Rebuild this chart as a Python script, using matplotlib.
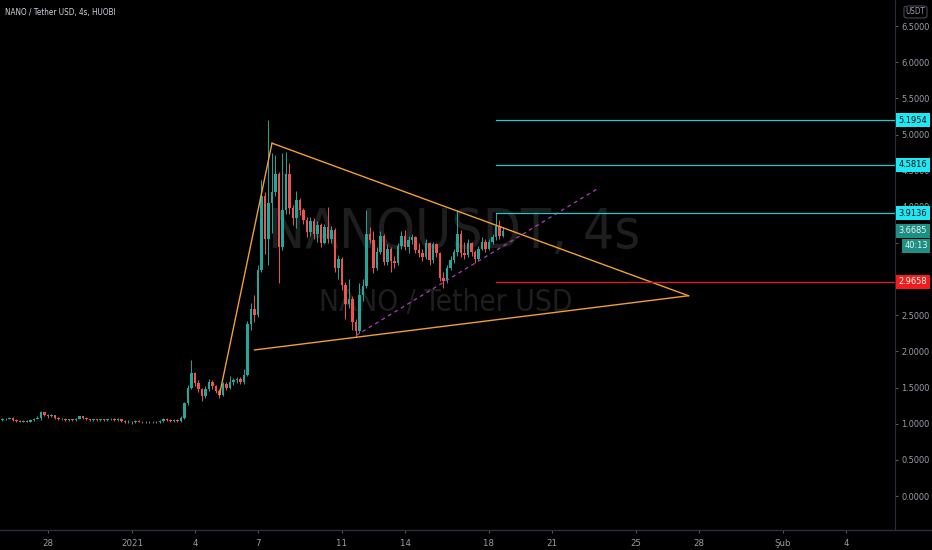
import numpy as np
import matplotlib
matplotlib.use("Agg")
import matplotlib.pyplot as plt
import matplotlib.dates as mdates
import matplotlib.transforms as mtransforms
import matplotlib.font_manager as fm
from matplotlib.patches import Rectangle, FancyBboxPatch

# ---- 4h candles, NANO/USDT (HUOBI) ----
first_bar = np.datetime64("2020-12-25T20:00")
first_open = 1.05
close = [
    1.06, 1.07, 1.08, 1.05, 1.04, 1.03, 1.04, 1.03, 1.05, 1.07,
    1.08, 1.16, 1.12, 1.10, 1.12, 1.08, 1.06, 1.07, 1.05, 1.06,
    1.05, 1.07, 1.10, 1.08, 1.06, 1.05, 1.06, 1.05, 1.06, 1.05,
    1.06, 1.07, 1.05, 1.07, 1.04, 1.02, 1.03, 1.02, 1.04, 1.03,
    1.02, 1.03, 1.02, 1.03, 1.02, 1.04, 1.07, 1.05, 1.04, 1.05,
    1.04, 1.08, 1.28, 1.50, 1.70, 1.56, 1.48, 1.38, 1.48, 1.58,
    1.52, 1.45, 1.40, 1.55, 1.50, 1.58, 1.60, 1.62, 1.58, 1.68,
    2.38, 2.58, 2.50, 3.13, 4.15, 3.55, 4.05, 4.20, 4.45, 3.45,
    3.95, 4.45, 3.98, 3.85, 4.10, 3.95, 3.82, 3.65, 3.80, 3.62,
    3.75, 3.50, 3.72, 3.55, 3.68, 3.15, 3.28, 2.92, 2.65, 2.72,
    2.40, 2.28, 2.78, 2.90, 3.62, 3.54, 3.15, 3.38, 3.60, 3.24,
    3.42, 3.25, 3.22, 3.46, 3.60, 3.44, 3.54, 3.58, 3.40, 3.36,
    3.31, 3.50, 3.26, 3.48, 3.36, 3.02, 2.98, 3.15, 3.26, 3.37,
    3.62, 3.36, 3.33, 3.50, 3.38, 3.28, 3.42, 3.52, 3.42, 3.52,
    3.58, 3.74, 3.60, 3.6685,
]
high = [
    1.08, 1.08, 1.09, 1.09, 1.06, 1.05, 1.05, 1.05, 1.06, 1.08,
    1.10, 1.18, 1.16, 1.13, 1.13, 1.12, 1.09, 1.08, 1.08, 1.07,
    1.07, 1.08, 1.11, 1.11, 1.09, 1.07, 1.07, 1.07, 1.07, 1.07,
    1.07, 1.08, 1.08, 1.08, 1.07, 1.05, 1.05, 1.04, 1.05, 1.05,
    1.04, 1.04, 1.04, 1.04, 1.04, 1.05, 1.08, 1.08, 1.06, 1.06,
    1.06, 1.10, 1.30, 1.53, 1.88, 1.72, 1.60, 1.50, 1.52, 1.62,
    1.60, 1.54, 1.48, 1.58, 1.58, 1.66, 1.63, 1.65, 1.64, 1.75,
    2.42, 2.67, 2.78, 3.20, 4.37, 4.20, 5.20, 4.75, 4.72, 4.48,
    4.74, 4.76, 4.60, 4.02, 4.22, 4.12, 3.98, 3.86, 3.86, 3.84,
    3.80, 3.78, 3.76, 4.00, 3.74, 3.70, 3.34, 3.30, 2.96, 3.00,
    2.76, 2.45, 2.95, 3.00, 3.95, 3.72, 3.66, 3.45, 3.66, 3.62,
    3.48, 3.45, 3.32, 3.50, 3.66, 3.68, 3.60, 3.62, 3.60, 3.50,
    3.42, 3.55, 3.52, 3.52, 3.50, 3.38, 3.10, 3.20, 3.32, 3.42,
    3.96, 3.68, 3.52, 3.55, 3.52, 3.40, 3.46, 3.58, 3.55, 3.56,
    3.62, 3.9136, 3.82, 3.72,
]
low = [
    1.04, 1.05, 1.06, 1.04, 1.03, 1.02, 1.02, 1.02, 1.02, 1.04,
    1.06, 1.05, 1.10, 1.08, 1.09, 1.07, 1.05, 1.05, 1.04, 1.04,
    1.04, 1.04, 1.06, 1.07, 1.05, 1.04, 1.04, 1.04, 1.04, 1.04,
    1.04, 1.05, 1.04, 1.04, 1.03, 1.01, 1.01, 1.00, 1.01, 1.02,
    1.01, 1.01, 1.01, 1.01, 1.01, 1.01, 1.03, 1.04, 1.03, 1.03,
    1.03, 1.03, 1.07, 1.26, 1.48, 1.52, 1.44, 1.32, 1.36, 1.45,
    1.48, 1.42, 1.35, 1.38, 1.46, 1.48, 1.54, 1.56, 1.55, 1.55,
    1.66, 2.30, 2.40, 2.48, 3.10, 3.35, 3.20, 3.64, 4.15, 2.95,
    3.40, 3.90, 3.90, 3.75, 3.70, 3.88, 3.76, 3.58, 3.60, 3.56,
    3.52, 3.45, 3.48, 3.50, 3.50, 3.10, 3.00, 2.85, 2.45, 2.60,
    2.30, 2.20, 2.25, 2.70, 2.88, 3.50, 3.08, 3.12, 3.35, 3.20,
    3.20, 3.10, 3.15, 3.20, 3.42, 3.40, 3.36, 3.48, 3.36, 3.30,
    3.25, 3.28, 3.20, 3.22, 3.30, 2.98, 2.88, 2.95, 3.12, 3.22,
    3.32, 3.30, 3.28, 3.30, 3.32, 3.22, 3.26, 3.40, 3.38, 3.40,
    3.48, 3.54, 3.56, 3.58,
]

# ---- drawings on the chart ----
triangle_pts = [("2021-01-05T04:00", 1.40), ("2021-01-07T16:00", 4.88),
                ("2021-01-27T12:00", 2.77), ("2021-01-06T20:00", 2.02)]
support_pts = [("2021-01-11T16:00", 2.22), ("2021-01-23T04:00", 4.25)]
level_start = "2021-01-18T08:00"
target_levels = [5.1954, 4.5816, 3.9136]
stop_level = 2.9658
last_price = 3.6685
countdown = "40:13"

price_ticks = [0.0, 0.5, 1.0, 1.5, 2.0, 2.5, 3.0, 3.5, 4.0, 4.5, 5.0, 5.5, 6.0, 6.5]
date_ticks = ["2020-12-28", "2021-01-01", "2021-01-04", "2021-01-07", "2021-01-11",
              "2021-01-14", "2021-01-18", "2021-01-21", "2021-01-25", "2021-01-28",
              "2021-02-01", "2021-02-04"]
date_labels = ["28", "2021", "4", "7", "11", "14", "18", "21", "25", "28", "Şub", "4"]

# ---- style ----
UP = "#26a69a"
DOWN = "#ef5350"
TXT = "#9a9da6"
LINE = "#2a2e39"

has_condensed = any(f.name == "DejaVu Sans" and "condensed" in str(f.stretch)
                    for f in fm.fontManager.ttflist)
if has_condensed:
    FONT = dict(family=["DejaVu Sans"], stretch="condensed")
else:
    FONT = dict(family=["Liberation Sans", "DejaVu Sans"], stretch="normal")

W, H, DPI = 932, 550, 100
fig = plt.figure(figsize=(W / DPI, H / DPI), dpi=DPI, facecolor="black")
ax_right_px, ax_bottom_px = 895, 530
ax = fig.add_axes([0, 1 - ax_bottom_px / H, ax_right_px / W, ax_bottom_px / H])
ax.set_facecolor("black")

px_per_day = 21.0
d_ref = mdates.date2num(np.datetime64("2020-12-28T00:00"))
x_left = d_ref - 48 / px_per_day
ax.set_xlim(x_left, x_left + ax_right_px / px_per_day)
px_per_unit = 72.3
y_top = 496 / px_per_unit
ax.set_ylim(y_top - ax_bottom_px / px_per_unit, y_top)

renderer = fig.canvas.get_renderer()


def fit_width(txt, width_px):
    # scale a text's font size so that it spans the given width in pixels
    w = txt.get_window_extent(renderer=renderer).width
    txt.set_fontsize(txt.get_fontsize() * width_px / w)


# symbol watermark
wm1 = ax.text(454 / ax_right_px, 1 - 233 / ax_bottom_px, "NANOUSDT, 4s", transform=ax.transAxes,
              ha="center", va="center", fontsize=40, color="#1e1e1e", zorder=0, **FONT)
wm2 = ax.text(446 / ax_right_px, 1 - 302 / ax_bottom_px, "NANO / Tether USD", transform=ax.transAxes,
              ha="center", va="center", fontsize=20, color="#1e1e1e", zorder=0, **FONT)
fit_width(wm1, 372)
fit_width(wm2, 254)

# candles
n = len(close)
times = first_bar + np.arange(n) * np.timedelta64(4, "h")
t = mdates.date2num(times)
op = np.array([first_open] + close[:-1])
cl = np.array(close)
hi = np.array(high)
lo = np.array(low)
col = np.where(cl >= op, UP, DOWN)
ax.vlines(t, lo, hi, colors=col, linewidth=0.7, zorder=3)
body = np.abs(cl - op)
body = np.where(body < 0.008, 0.008, body)
ax.bar(t, body, bottom=np.minimum(op, cl), width=0.115, color=col, linewidth=0, zorder=4)

# triangle
tri_x = [mdates.date2num(np.datetime64(p[0])) for p in triangle_pts]
tri_y = [p[1] for p in triangle_pts]
orange = "#f0a030"
for a, b in [(0, 1), (1, 2), (3, 2)]:
    ax.plot([tri_x[a], tri_x[b]], [tri_y[a], tri_y[b]], color=orange, lw=1.0, zorder=5)

# rising support (dashed)
sx = [mdates.date2num(np.datetime64(p[0])) for p in support_pts]
sy = [p[1] for p in support_pts]
ax.plot(sx, sy, color="#b03cc0", lw=0.9, ls=(0, (3, 3)), zorder=5)

# horizontal levels
x0 = mdates.date2num(np.datetime64(level_start))
x1 = ax.get_xlim()[1]
for lv in target_levels:
    ax.plot([x0, x1], [lv, lv], color="#22c7d6", lw=0.9, zorder=5)
ax.plot([x0, x1], [stop_level, stop_level], color="#d32020", lw=1.0, zorder=5)

# axes styling
for s in ["top", "left"]:
    ax.spines[s].set_visible(False)
ax.spines["right"].set_color(LINE)
ax.spines["bottom"].set_color(LINE)
ax.yaxis.tick_right()
ax.set_yticks(price_ticks)
ax.set_yticklabels([f"{v:.4f}" for v in price_ticks])
ax.tick_params(axis="y", length=2.5, pad=2.0, colors="#555a66", labelcolor=TXT, labelsize=6.6)
ax.set_xticks([mdates.date2num(np.datetime64(d)) for d in date_ticks])
ax.set_xticklabels(date_labels)
ax.tick_params(axis="x", length=2.5, pad=4, colors="#555a66", labelcolor=TXT, labelsize=6.8)
for lab in ax.get_xticklabels() + ax.get_yticklabels():
    lab.set_family(FONT["family"])
    lab.set_stretch(FONT["stretch"])

# price labels on the scale
blend = mtransforms.blended_transform_factory(ax.transAxes, ax.transData)
box_h = 14 / px_per_unit
bx0 = 1.0 + 1 / ax_right_px
bw = 34 / ax_right_px


def scale_label(price, text, bg, fg, dy=0.0, x_off=0.0, width=bw):
    yc = price - dy
    ax.add_patch(Rectangle((bx0 + x_off, yc - box_h / 2), width, box_h, transform=blend,
                           facecolor=bg, edgecolor="none", clip_on=False, zorder=10))
    ax.text(bx0 + x_off + width / 2, yc, text, transform=blend, ha="center", va="center",
            color=fg, fontsize=6.6, clip_on=False, zorder=11, **FONT)


for lv in target_levels:
    scale_label(lv, f"{lv:.4f}", "#1de9f6", "#0a0a0a")
scale_label(last_price, f"{last_price:.4f}", "#1f8f84", "#e8f5f3")
scale_label(last_price, countdown, "#1f8f84", "#e8f5f3", dy=15 / px_per_unit,
            x_off=6 / ax_right_px, width=28 / ax_right_px)
scale_label(stop_level, f"{stop_level:.4f}", "#f21c1c", "#ffffff")

# currency box
fig.patches.append(FancyBboxPatch((904 / W, 1 - 18 / H), 23 / W, 12 / H,
                                  boxstyle="round,pad=0,rounding_size=0.004",
                                  transform=fig.transFigure, facecolor="black",
                                  edgecolor="#434651", linewidth=0.8))
fig.text(915.5 / W, 1 - 12 / H, "USDT", ha="center", va="center", color=TXT,
         fontsize=5.8, **FONT)

# bottom rule across the whole width
fig.add_artist(plt.Line2D([0, 1], [1 - ax_bottom_px / H] * 2, transform=fig.transFigure,
                          color=LINE, lw=1.0))

# title
title = fig.text(5 / W, 1 - 12 / H, "NANO / Tether USD, 4s, HUOBI", ha="left", va="center",
                 color="#d1d4dc", fontsize=7, **FONT)
fit_width(title, 111)

fig.savefig("out.png", dpi=DPI, facecolor="black")
